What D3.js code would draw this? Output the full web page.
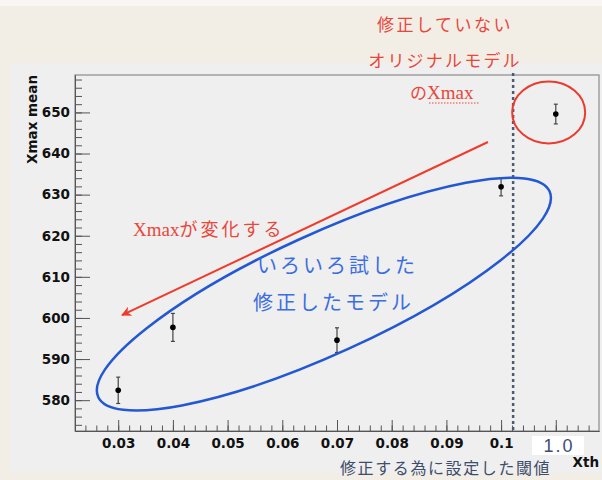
<!DOCTYPE html>
<html><head><meta charset="utf-8">
<script src="https://cdn.jsdelivr.net/npm/d3@7"></script>
<style>
html,body{margin:0;padding:0;background:#f2eee5;}
svg{display:block;}
</style></head>
<body>
<svg id="chart" width="602" height="480"></svg>
<script>
// ---- data ----
const xth = [0.03, 0.04, 0.07, 0.1, 0.11];
const xmaxMean = [582.4, 597.7, 594.6, 631.9, 649.6];
const xmaxErr = [3.2, 3.4, 3.0, 2.2, 2.4];
const xTicks = [0.03, 0.04, 0.05, 0.06, 0.07, 0.08, 0.09, 0.1, 0.11];
const xTickLabels = ["0.03", "0.04", "0.05", "0.06", "0.07", "0.08", "0.09", "0.1", ""];
const yTicks = [580, 590, 600, 610, 620, 630, 640, 650];
const xDomain = [0.0221, 0.1179];
const yDomain = [572.5, 659.1];
// annotation anchors (data units)
const cutX = 0.1022;
const originalCircle = [0.1087, 650];
const ellipseCenter = [0.0676, 605.8];
const arrowFrom = [0.0976, 642.8];
const arrowTo = [0.0307, 600.7];

const svg = d3.select("#chart");
// backgrounds
svg.append("rect").attr("x",0).attr("y",0).attr("width",602).attr("height",480).attr("fill","#f2eee5");
svg.append("rect").attr("x",0).attr("y",0).attr("width",602).attr("height",6).attr("fill","#f7f6f3");
svg.append("rect").attr("x",10).attr("y",63).attr("width",592).attr("height",410).attr("fill","#efefef");

const x = d3.scaleLinear().domain(xDomain).range([75, 599]);
const y = d3.scaleLinear().domain(yDomain).range([431, 75]);

// frame
svg.append("rect").attr("x",75).attr("y",75).attr("width",524).attr("height",356)
  .attr("fill","none").attr("stroke","#8a8a8a").attr("stroke-width",1.2);

const tickFont = "'DejaVu Sans', sans-serif";

// x axis minor
const xMinor = d3.range(12, 59).map(i => i * 0.002);
svg.append("g").attr("transform","translate(0,431)")
  .call(d3.axisBottom(x).tickValues(xMinor).tickSizeInner(-5.5).tickSizeOuter(0).tickFormat(""))
  .call(g => g.selectAll("line").attr("stroke","#555"))
  .call(g => g.select(".domain").attr("stroke","#555"));
// x axis major
svg.append("g").attr("transform","translate(0,431)")
  .call(d3.axisBottom(x).tickValues(xTicks).tickSizeInner(-11).tickSizeOuter(0).tickPadding(7)
    .tickFormat((d,i) => xTickLabels[i]))
  .call(g => g.select(".domain").attr("stroke","#555"))
  .call(g => g.selectAll("line").attr("stroke","#555"))
  .call(g => g.selectAll("text").attr("font-family",tickFont).attr("font-weight","bold")
     .attr("font-size","13.5px").attr("fill","#111"));

// y axis minor
const yMinor = d3.range(574, 660, 2);
svg.append("g").attr("transform","translate(75,0)")
  .call(d3.axisLeft(y).tickValues(yMinor).tickSizeInner(-7).tickSizeOuter(0).tickFormat(""))
  .call(g => g.selectAll("line").attr("stroke","#555"))
  .call(g => g.select(".domain").attr("stroke","#555"));
// y axis major
svg.append("g").attr("transform","translate(75,0)")
  .call(d3.axisLeft(y).tickValues(yTicks).tickSizeInner(-15).tickSizeOuter(0).tickPadding(5).tickFormat(d3.format("d")))
  .call(g => g.select(".domain").attr("stroke","#555"))
  .call(g => g.selectAll("line").attr("stroke","#555"))
  .call(g => g.selectAll("text").attr("font-family",tickFont).attr("font-weight","bold")
     .attr("font-size","13.5px").attr("fill","#111"));

// axis titles
svg.append("text").attr("transform","translate(37,75) rotate(-90)")
  .attr("text-anchor","end").attr("font-family",tickFont).attr("font-weight","bold")
  .attr("font-size","13.5px").attr("fill","#111").text("Xmax mean");
svg.append("text").attr("x",599).attr("y",467).attr("text-anchor","end")
  .attr("font-family",tickFont).attr("font-weight","bold").attr("font-size","13.5px")
  .attr("fill","#111").text("Xth");

// cut line
svg.append("line").attr("x1",x(cutX)).attr("x2",x(cutX)).attr("y1",73).attr("y2",431)
  .attr("stroke","#4d5b72").attr("stroke-width",2.5).attr("stroke-dasharray","3,3");

// data points with error bars
const pts = xth.map((d,i) => ({x:d, y:xmaxMean[i], e:xmaxErr[i]}));
const pg = svg.append("g");
pg.selectAll("line.eb").data(pts).join("line").attr("class","eb")
  .attr("x1",d=>x(d.x)).attr("x2",d=>x(d.x)).attr("y1",d=>y(d.y-d.e)).attr("y2",d=>y(d.y+d.e))
  .attr("stroke","#444").attr("stroke-width",1.2);
pg.selectAll("line.ct").data(pts).join("line").attr("class","ct")
  .attr("x1",d=>x(d.x)-2).attr("x2",d=>x(d.x)+2).attr("y1",d=>y(d.y+d.e)).attr("y2",d=>y(d.y+d.e))
  .attr("stroke","#444").attr("stroke-width",1.2);
pg.selectAll("line.cb").data(pts).join("line").attr("class","cb")
  .attr("x1",d=>x(d.x)-2).attr("x2",d=>x(d.x)+2).attr("y1",d=>y(d.y-d.e)).attr("y2",d=>y(d.y-d.e))
  .attr("stroke","#444").attr("stroke-width",1.2);
pg.selectAll("circle").data(pts).join("circle")
  .attr("cx",d=>x(d.x)).attr("cy",d=>y(d.y)).attr("r",2.8).attr("fill","#000");

// "1.0" box covering 0.11 label
svg.append("rect").attr("x",532).attr("y",436).attr("width",52).attr("height",19).attr("fill","#ffffff");
svg.append("text").attr("x",559).attr("y",452).attr("text-anchor","middle")
  .attr("font-family","'Liberation Sans', sans-serif").attr("font-size","18px")
  .attr("letter-spacing","2px").attr("fill","#3d5070").text("1.0");

// bottom Japanese label
svg.append("text").attr("x",340).attr("y",474)
  .attr("font-family","'Noto Sans CJK JP', sans-serif").attr("font-size","16px")
  .attr("letter-spacing","1.6px").attr("fill","#3f4d6a").text("修正する為に設定した閾値");

// red circle
svg.append("ellipse").attr("cx",x(originalCircle[0])).attr("cy",y(originalCircle[1]))
  .attr("rx",36.5).attr("ry",31).attr("fill","none").attr("stroke","#ea3b2e").attr("stroke-width",2);

// blue ellipse
svg.append("ellipse")
  .attr("transform",`translate(${x(ellipseCenter[0])},${y(ellipseCenter[1])}) rotate(-24.5)`)
  .attr("rx",248).attr("ry",60).attr("fill","none").attr("stroke","#2458d2").attr("stroke-width",2.5);

// red arrow
const defs = svg.append("defs");
defs.append("marker").attr("id","arr").attr("viewBox","0 0 10 10").attr("refX",9).attr("refY",5)
  .attr("markerWidth",5).attr("markerHeight",5).attr("orient","auto-start-reverse")
  .attr("markerUnits","strokeWidth")
  .append("path").attr("d","M0,0 L10,5 L0,10 L3,5 Z").attr("fill","#ef3b2c");
svg.append("line").attr("x1",x(arrowFrom[0])).attr("y1",y(arrowFrom[1]))
  .attr("x2",x(arrowTo[0])).attr("y2",y(arrowTo[1]))
  .attr("stroke","#ef3b2c").attr("stroke-width",2).attr("marker-end","url(#arr)");

// red annotations
const red = "#e8473c";
const cjk = "'Noto Sans CJK JP', sans-serif";
const serif = "'Liberation Serif', serif";
svg.append("text").attr("x",445).attr("y",31).attr("text-anchor","middle")
  .attr("font-family",cjk).attr("font-size","17px").attr("letter-spacing","2.5px").attr("fill",red)
  .text("修正していない");
svg.append("text").attr("x",445).attr("y",67).attr("text-anchor","middle")
  .attr("font-family",cjk).attr("font-size","17px").attr("letter-spacing","2.2px").attr("fill",red)
  .text("オリジナルモデル");
const t3 = svg.append("text").attr("x",410).attr("y",99).attr("fill",red);
t3.append("tspan").attr("font-family",cjk).attr("font-size","17px").text("の");
t3.append("tspan").attr("font-family",serif).attr("font-size","19px").text("Xmax");
svg.append("line").attr("x1",429).attr("x2",479).attr("y1",103).attr("y2",103)
  .attr("stroke",red).attr("stroke-width",1.2).attr("stroke-dasharray","1.5,1.5");

const t4 = svg.append("text").attr("x",133).attr("y",236).attr("fill",red);
t4.append("tspan").attr("font-family",serif).attr("font-size","19px").text("Xmax");
t4.append("tspan").attr("font-family",cjk).attr("font-size","18px").attr("letter-spacing","3px").text("が変化する");

// blue annotations
const blue = "#3b6ee0";
svg.append("text").attr("x",257).attr("y",273)
  .attr("font-family",cjk).attr("font-size","20px").attr("letter-spacing","3px").attr("fill",blue)
  .text("いろいろ試した");
svg.append("text").attr("x",253).attr("y",310)
  .attr("font-family",cjk).attr("font-size","20px").attr("letter-spacing","3px").attr("fill",blue)
  .text("修正したモデル");
</script>
</body></html>
